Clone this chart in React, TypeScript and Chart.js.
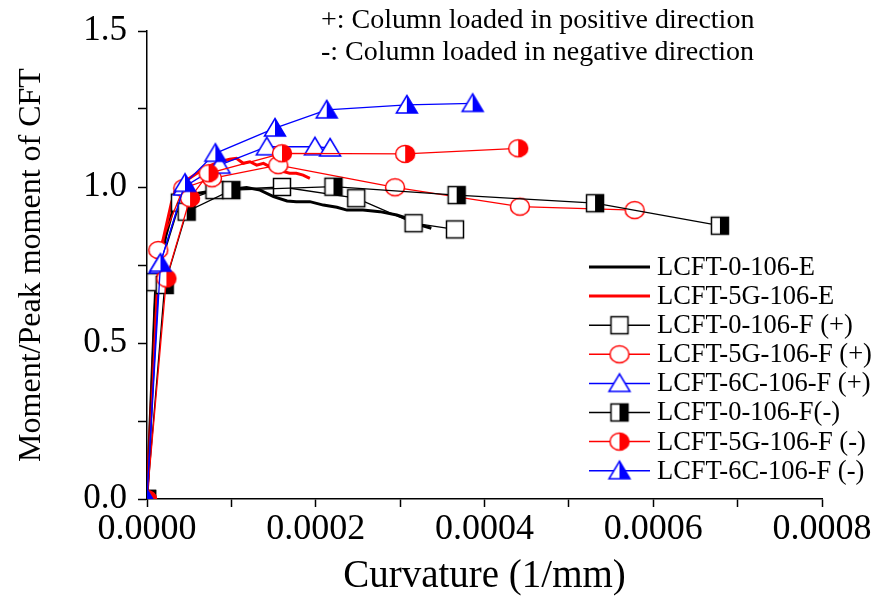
import React, { useEffect, useRef } from 'react';
import { Chart, registerables } from 'chart.js';

Chart.register(...registerables);

// ---------- data ----------
const curv0E = [0, 1.0e-5, 2.2e-5, 3.3e-5, 6.1e-5, 8.3e-5, 9.8e-5, 1.18e-4, 1.34e-4, 1.5e-4, 1.66e-4, 1.77e-4, 1.93e-4, 2.09e-4, 2.25e-4, 2.37e-4, 2.56e-4, 2.76e-4, 2.96e-4, 3.08e-4, 3.24e-4, 3.37e-4];
const mom0E = [0, 0.66, 0.84, 0.95, 0.98, 0.99, 0.992, 0.998, 0.99, 0.969, 0.955, 0.953, 0.953, 0.942, 0.935, 0.926, 0.926, 0.921, 0.91, 0.9, 0.878, 0.868];

const curv5GE = [0, 1.0e-5, 1.9e-5, 2.9e-5, 3.5e-5, 5.7e-5, 7.1e-5, 8.65e-5, 9.8e-5, 1.06e-4, 1.14e-4, 1.22e-4, 1.3e-4, 1.38e-4, 1.46e-4, 1.54e-4, 1.62e-4, 1.69e-4, 1.77e-4, 1.85e-4, 1.93e-4];
const mom5GE = [0, 0.6, 0.83, 0.95, 1.0, 1.04, 1.065, 1.081, 1.089, 1.092, 1.076, 1.081, 1.07, 1.076, 1.065, 1.06, 1.049, 1.044, 1.044, 1.038, 1.028];

const curv0FPos = [0, 1.0e-5, 3.9e-5, 8.0e-5, 1.6e-4, 2.48e-4, 3.16e-4, 3.65e-4];
const mom0FPos = [0, 0.695, 0.95, 0.99, 1.0, 0.964, 0.884, 0.864];

const curv5GFPos = [0, 1.34e-5, 4.3e-5, 7.7e-5, 1.556e-4, 2.94e-4, 4.42e-4, 5.78e-4];
const mom5GFPos = [0, 0.798, 0.996, 1.028, 1.07, 0.999, 0.937, 0.926];

const curv6CFPos = [0, 1.5e-5, 4.4e-5, 8.6e-5, 1.42e-4, 1.99e-4, 2.17e-4];
const mom6CFPos = [0, 0.75, 1.0, 1.07, 1.129, 1.129, 1.125];

const curv0FNeg = [0, 2.1e-5, 4.7e-5, 1.0e-4, 2.21e-4, 3.67e-4, 5.31e-4, 6.79e-4];
const mom0FNeg = [0, 0.686, 0.921, 0.99, 1.001, 0.974, 0.948, 0.876];

const curv5GFNeg = [0, 2.3e-5, 5.1e-5, 7.3e-5, 1.6e-4, 3.06e-4, 4.4e-4];
const mom5GFNeg = [0, 0.707, 0.964, 1.044, 1.108, 1.106, 1.124];

const curv6CFNeg = [0, 1.6e-5, 4.5e-5, 8.1e-5, 1.517e-4, 2.13e-4, 3.08e-4, 3.86e-4];
const mom6CFNeg = [0, 0.756, 1.012, 1.108, 1.189, 1.247, 1.263, 1.268];

const seriesLabels = [
  'LCFT-0-106-E',
  'LCFT-5G-106-E',
  'LCFT-0-106-F (+)',
  'LCFT-5G-106-F (+)',
  'LCFT-6C-106-F (+)',
  'LCFT-0-106-F(-)',
  'LCFT-5G-106-F (-)',
  'LCFT-6C-106-F (-)',
];

const noteLines = ['+: Column loaded in positive direction', '-: Column loaded in negative direction'];

const xTitle = 'Curvature (1/mm)';
const yTitle = 'Moment/Peak moment of CFT';

// ---------- helpers ----------
const FONT = '"Liberation Serif", "Times New Roman", serif';

type Shape = 'square' | 'circle' | 'triangle';
type FillKind = 'open' | 'half';

function makeMarker(shape: Shape, color: string, fill: FillKind): HTMLCanvasElement {
  const size = 26;
  const c = size / 2;
  const cv = document.createElement('canvas');
  cv.width = size;
  cv.height = size;
  const ctx = cv.getContext('2d')!;
  const path = () => {
    ctx.beginPath();
    if (shape === 'square') {
      ctx.rect(c - 8.5, c - 8.5, 17, 17);
    } else if (shape === 'circle') {
      ctx.ellipse(c, c, 9.5, 8.5, 0, 0, Math.PI * 2);
    } else {
      ctx.moveTo(c, c - 9.5);
      ctx.lineTo(c + 10.5, c + 8);
      ctx.lineTo(c - 10.5, c + 8);
      ctx.closePath();
    }
  };
  path();
  ctx.fillStyle = '#ffffff';
  ctx.fill();
  if (fill === 'half') {
    ctx.save();
    ctx.beginPath();
    ctx.rect(c, 0, size, size);
    ctx.clip();
    path();
    ctx.fillStyle = color;
    ctx.fill();
    ctx.restore();
  }
  path();
  ctx.lineWidth = 1.5;
  ctx.strokeStyle = color;
  ctx.stroke();
  return cv;
}

function pts(xs: number[], ys: number[]) {
  return xs.map((x, i) => ({ x, y: ys[i] }));
}

export default function App() {
  const ref = useRef<HTMLCanvasElement | null>(null);

  useEffect(() => {
    const canvas = ref.current;
    if (!canvas) return;

    const mk = {
      sqOpen: makeMarker('square', '#000000', 'open'),
      ciOpen: makeMarker('circle', '#ff0000', 'open'),
      trOpen: makeMarker('triangle', '#0000ff', 'open'),
      sqHalf: makeMarker('square', '#000000', 'half'),
      ciHalf: makeMarker('circle', '#ff0000', 'half'),
      trHalf: makeMarker('triangle', '#0000ff', 'half'),
    };

    const specs = [
      { data: pts(curv0E, mom0E), color: '#000000', width: 3, marker: null as HTMLCanvasElement | null },
      { data: pts(curv5GE, mom5GE), color: '#ff0000', width: 3, marker: null },
      { data: pts(curv0FPos, mom0FPos), color: '#000000', width: 1.3, marker: mk.sqOpen },
      { data: pts(curv5GFPos, mom5GFPos), color: '#ff0000', width: 1.3, marker: mk.ciOpen },
      { data: pts(curv6CFPos, mom6CFPos), color: '#0000ff', width: 1.3, marker: mk.trOpen },
      { data: pts(curv0FNeg, mom0FNeg), color: '#000000', width: 1.3, marker: mk.sqHalf },
      { data: pts(curv5GFNeg, mom5GFNeg), color: '#ff0000', width: 1.3, marker: mk.ciHalf },
      { data: pts(curv6CFNeg, mom6CFNeg), color: '#0000ff', width: 1.3, marker: mk.trHalf },
    ];

    const datasets = specs.map((s, i) => ({
      label: seriesLabels[i],
      data: s.data,
      borderColor: s.color,
      backgroundColor: s.color,
      borderWidth: s.width,
      pointStyle: s.marker ? (s.marker as any) : 'circle',
      pointRadius: s.marker ? 10 : 0,
      pointHoverRadius: s.marker ? 10 : 0,
      tension: 0,
      fill: false,
      order: specs.length - i,
    }));

    const legendPlugin = {
      id: 'customLegend',
      afterDraw(chart: any) {
        const ctx = chart.ctx as CanvasRenderingContext2D;
        ctx.save();
        const x0 = 589;
        const x1 = 650;
        const xm = 619.5;
        const tx = 657;
        const y0 = 267;
        const dy = 29.1;
        ctx.font = `26.5px ${FONT}`;
        ctx.textBaseline = 'middle';
        ctx.textAlign = 'left';
        specs.forEach((s, i) => {
          const y = y0 + dy * i;
          ctx.beginPath();
          ctx.moveTo(x0, y);
          ctx.lineTo(x1, y);
          ctx.strokeStyle = s.color;
          ctx.lineWidth = s.width === 3 ? 3 : 1.5;
          ctx.stroke();
          if (s.marker) {
            ctx.drawImage(s.marker, xm - s.marker.width / 2, y - s.marker.height / 2);
          }
          ctx.fillStyle = '#000000';
          ctx.fillText(seriesLabels[i], tx, y + 1);
        });
        ctx.font = `28px ${FONT}`;
        ctx.textBaseline = 'alphabetic';
        ctx.fillText(noteLines[0], 321, 28);
        ctx.fillText(noteLines[1], 321, 60);
        ctx.restore();
      },
    };

    const chart = new Chart(canvas, {
      type: 'line',
      data: { datasets: datasets as any },
      options: {
        animation: false,
        responsive: false,
        maintainAspectRatio: false,
        layout: { padding: { left: 0, top: 31, right: 63, bottom: 0 } },
        plugins: {
          legend: { display: false },
          tooltip: { enabled: false },
          title: { display: false },
        },
        scales: {
          x: {
            type: 'linear',
            min: 0,
            max: 0.0008,
            afterFit: (s: any) => {
              s.height = 100;
            },
            ticks: {
              stepSize: 0.0001,
              autoSkip: false,
              maxRotation: 0,
              padding: 5,
              color: '#000000',
              font: { family: FONT, size: 36, lineHeight: 1 },
              callback: (v: any) => {
                const n = Math.round(Number(v) / 0.0001);
                return n % 2 === 0 ? (n * 0.0001).toFixed(4) : '';
              },
            },
            grid: {
              drawOnChartArea: false,
              drawTicks: true,
              tickLength: 8,
              tickWidth: 1.5,
              tickColor: '#000000',
              color: '#000000',
            },
            border: { display: true, color: '#000000', width: 1.5 },
            title: {
              display: true,
              text: xTitle,
              color: '#000000',
              font: { family: FONT, size: 39, lineHeight: 1 },
              padding: { top: 0, bottom: 2.5 },
            },
          },
          y: {
            type: 'linear',
            min: 0,
            max: 1.5,
            afterFit: (s: any) => {
              s.width = 147;
            },
            ticks: {
              stepSize: 0.25,
              autoSkip: false,
              padding: 11,
              color: '#000000',
              font: { family: FONT, size: 35, lineHeight: 1 },
              callback: (v: any) => {
                const n = Math.round(Number(v) / 0.25);
                return n % 2 === 0 ? (n * 0.25).toFixed(1) : '';
              },
            },
            grid: {
              drawOnChartArea: false,
              drawTicks: true,
              tickLength: 9,
              tickWidth: 1.5,
              tickColor: '#000000',
              color: '#000000',
            },
            border: { display: true, color: '#000000', width: 1.5 },
            title: {
              display: true,
              text: yTitle,
              color: '#000000',
              font: { family: FONT, size: 32, lineHeight: 1 },
              padding: { top: 16, bottom: 0 },
            },
          },
        },
      },
      plugins: [legendPlugin],
    });

    return () => {
      chart.destroy();
    };
  }, []);

  return (
    <div style={{ position: 'fixed', left: 0, top: 0, width: 885, height: 599, background: '#ffffff' }}>
      <canvas ref={ref} width={885} height={599} />
    </div>
  );
}
